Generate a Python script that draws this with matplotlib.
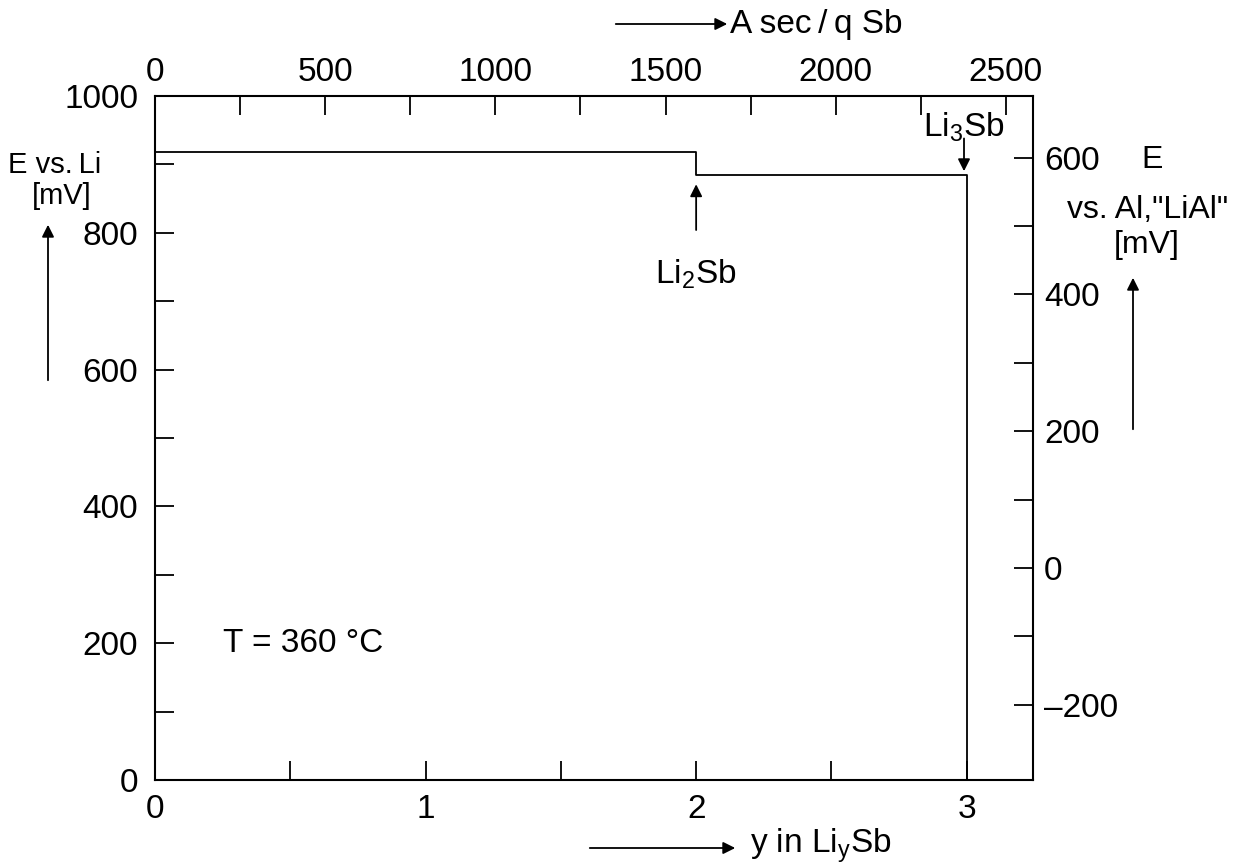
import numpy as np
import matplotlib.pyplot as plt

plt.rcParams['font.family'] = ['Liberation Sans', 'DejaVu Sans']

# titration curve
y_li = [0, 2, 2, 3, 3]
E_li = [918, 918, 884, 884, 0]

q_per_y = 795.0        # A sec/g Sb for one Li
e_offset = 310.0       # E vs Li minus E vs Al,"LiAl"

bottom_ticks = [0, 1, 2, 3]
top_ticks = [0, 500, 1000, 1500, 2000, 2500]
left_ticks = [0, 200, 400, 600, 800, 1000]
right_ticks = [-200, 0, 200, 400, 600]

W, H = 1237, 868
fig = plt.figure(figsize=(W / 100, H / 100), dpi=100)
ax = fig.add_axes([155 / W, 1 - 780 / H, (1033 - 155) / W, (780 - 96) / H])

ax.plot(y_li, E_li, color='black', lw=1.3)
ax.set_xlim(0, 3.245)
ax.set_ylim(0, 1000)

tick_kw = dict(direction='in', length=14, width=1.3, colors='black')
lab = 24
ax.set_xticks(bottom_ticks)
ax.set_xticks(np.arange(0.5, 3.2, 1.0), minor=True)
ax.set_yticks(left_ticks)
ax.set_yticks(np.arange(100, 1000, 200), minor=True)
ax.tick_params(which='both', **tick_kw)
ax.tick_params(axis='y', labelsize=lab, pad=12)
ax.tick_params(axis='x', labelsize=lab, pad=10)
for s in ax.spines.values():
    s.set_linewidth(1.5)
ax.spines['top'].set_visible(False)
ax.spines['right'].set_visible(False)

top = ax.secondary_xaxis('top', functions=(lambda y: y * q_per_y, lambda q: q / q_per_y))
top.set_xticks(top_ticks)
top.set_xticks(np.arange(250, 2600, 500), minor=True)
top.tick_params(which='both', **tick_kw)
top.tick_params(labelsize=lab, pad=6)
top.spines['top'].set_linewidth(1.5)

right = ax.secondary_yaxis('right', functions=(lambda e: e - e_offset, lambda e: e + e_offset))
right.set_yticks(right_ticks)
right.set_yticks(np.arange(-100, 700, 200), minor=True)
right.set_yticklabels(['\u2013200', '0', '200', '400', '600'])
right.tick_params(which='both', **tick_kw)
right.tick_params(labelsize=lab, pad=8)
right.spines['right'].set_linewidth(1.5)

def fx(px):
    return px / W

def fy(py):
    return 1 - py / H

fs = 24
arrow = dict(arrowstyle='-|>', color='black', lw=1.3, mutation_scale=18)

# left axis label
fig.text(fx(55), fy(165), 'E vs.\u2009Li', fontsize=21, ha='center', va='center')
fig.text(fx(62), fy(196), '[mV]', fontsize=21, ha='center', va='center')
ax.annotate('', xy=(fx(48), fy(222)), xytext=(fx(48), fy(383)),
            xycoords='figure fraction', textcoords='figure fraction', arrowprops=arrow)

# right axis label
fig.text(fx(1152), fy(160), 'E', fontsize=23, ha='center', va='center')
fig.text(fx(1148), fy(210), 'vs. Al,"LiAl"', fontsize=23, ha='center', va='center')
fig.text(fx(1147), fy(245), '[mV]', fontsize=23, ha='center', va='center')
ax.annotate('', xy=(fx(1133), fy(275)), xytext=(fx(1133), fy(432)),
            xycoords='figure fraction', textcoords='figure fraction', arrowprops=arrow)

# top axis label
fig.text(fx(730), fy(24), 'A sec\u2009/\u2009q Sb', fontsize=fs, ha='left', va='center')
ax.annotate('', xy=(fx(730), fy(24)), xytext=(fx(613), fy(24)),
            xycoords='figure fraction', textcoords='figure fraction', arrowprops=arrow)

# bottom axis label
fig.text(fx(750), fy(846), 'y in Li$_\\mathregular{y}$Sb', fontsize=fs, ha='left', va='center')
ax.annotate('', xy=(fx(738), fy(848)), xytext=(fx(587), fy(848)),
            xycoords='figure fraction', textcoords='figure fraction', arrowprops=arrow)

# phase markers
ax.text(2.0, 740, 'Li$_\\mathregular{2}$Sb', fontsize=fs, ha='center', va='center')
ax.annotate('', xy=(2.0, 875), xytext=(2.0, 800), arrowprops=arrow)
ax.text(2.99, 955, 'Li$_\\mathregular{3}$Sb', fontsize=fs, ha='center', va='center')
ax.annotate('', xy=(2.99, 886), xytext=(2.99, 942), arrowprops=arrow)

ax.text(0.25, 200, 'T = 360 \u00b0C', fontsize=fs, ha='left', va='center')

fig.savefig('out.png', dpi=100)
